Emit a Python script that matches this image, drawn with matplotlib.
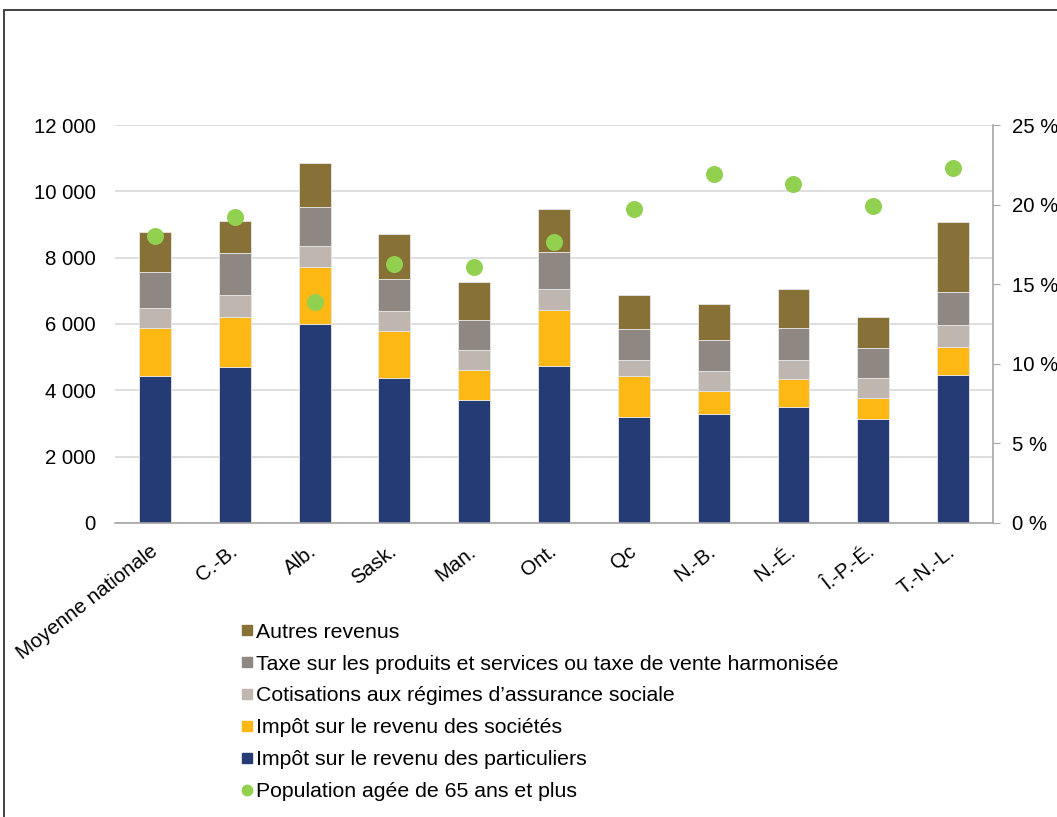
import matplotlib.pyplot as plt
import numpy as np
from matplotlib.patches import Rectangle
from matplotlib.lines import Line2D

plt.rcParams['font.family'] = ['Liberation Sans', 'DejaVu Sans']
FS = 14.7

provinces = ["Moyenne nationale", "C.-B.", "Alb.", "Sask.", "Man.", "Ont.",
             "Qc", "N.-B.", "N.-É.", "Î.-P.-É.", "T.-N.-L."]

# revenus par habitant ($), du bas vers le haut de chaque barre
particuliers = [4420, 4700, 5990, 4370, 3710, 4730, 3210, 3300, 3510, 3120, 4450]
societes = [1470, 1500, 1720, 1410, 900, 1680, 1230, 680, 820, 640, 850]
assurance_sociale = [590, 670, 640, 600, 600, 640, 470, 610, 580, 610, 680]
tps_tvh = [1080, 1260, 1170, 970, 920, 1120, 930, 920, 960, 900, 980]
autres = [1210, 980, 1340, 1360, 1150, 1310, 1020, 1080, 1170, 940, 2120]

# part de la population de 65 ans et plus (%)
pop_65 = [18.0, 19.2, 13.85, 16.25, 16.1, 17.65, 19.7, 21.95, 21.3, 19.9, 22.3]

series = [
    ("Impôt sur le revenu des particuliers", particuliers, "#253B73"),
    ("Impôt sur le revenu des sociétés", societes, "#FDB813"),
    ("Cotisations aux régimes d\u2019assurance sociale", assurance_sociale, "#BFB6AF"),
    ("Taxe sur les produits et services ou taxe de vente harmonisée", tps_tvh, "#8F8782"),
    ("Autres revenus", autres, "#877137"),
]
green = "#92D050"

fig = plt.figure(figsize=(10.57, 8.17), dpi=100)
ax = fig.add_axes([0.1088, 0.3599, 0.8307, 0.4871])

x = np.arange(len(provinces))
bottom = np.zeros(len(provinces))
for name, vals, col in series:
    ax.bar(x, vals, 0.4, bottom=bottom, color=col, edgecolor="#E8E8E8",
           linewidth=0.6, zorder=2)
    bottom += np.array(vals)

ax.set_xlim(-0.5, len(provinces) - 0.5)
ax.set_ylim(0, 12000)
ax.set_yticks(range(0, 12001, 2000))
ax.set_yticklabels([f"{v:,}".replace(",", " ") for v in range(0, 12001, 2000)],
                   fontsize=FS)
ax.yaxis.grid(True, color="#D9D9D9", linewidth=1.2, zorder=0)
ax.set_axisbelow(True)
ax.tick_params(axis="y", length=0, pad=14)
ax.set_xticks(x)
ax.set_xticklabels(provinces, rotation=38, ha="right", va="center",
                   rotation_mode="anchor", fontsize=14.8)
ax.tick_params(axis="x", length=0, pad=19)
for s in ["top", "left", "right"]:
    ax.spines[s].set_visible(False)
ax.spines["bottom"].set_color("#A6A6A6")
ax.spines["bottom"].set_linewidth(1.2)

ax2 = ax.twinx()
ax2.scatter(x, pop_65, s=150, color=green, zorder=3, linewidths=0)
ax2.set_ylim(0, 25)
ax2.set_yticks(range(0, 26, 5))
ax2.set_yticklabels([f"{v} %" for v in range(0, 26, 5)], fontsize=FS)
ax2.tick_params(axis="y", length=5, color="#A6A6A6", pad=9)
for s in ["top", "left", "bottom"]:
    ax2.spines[s].set_visible(False)
ax2.spines["right"].set_color("#A6A6A6")
ax2.spines["right"].set_linewidth(1.2)

# legende sous le graphique
handles = [Line2D([], [], marker="s", linestyle="none", markersize=7.5,
                  color=col) for _, _, col in reversed(series)]
handles.append(Line2D([], [], marker="o", linestyle="none", markersize=7.5,
                      color=green))
labels = [name for name, _, _ in reversed(series)] + ["Population agée de 65 ans et plus"]
fig.legend(handles, labels, loc="upper left", bbox_to_anchor=(0.2175, 0.251),
           frameon=False, fontsize=15.3, handlelength=0.6, handletextpad=0.12,
           labelspacing=0.61, borderpad=0)

# cadre autour de la figure
fig.patches.append(Rectangle((4 / 1057, -0.1), 1.2, 1 - 10 / 817 + 0.1,
                             transform=fig.transFigure, fill=False,
                             edgecolor="#404040", linewidth=1.4))

fig.savefig("out.png", dpi=100)
